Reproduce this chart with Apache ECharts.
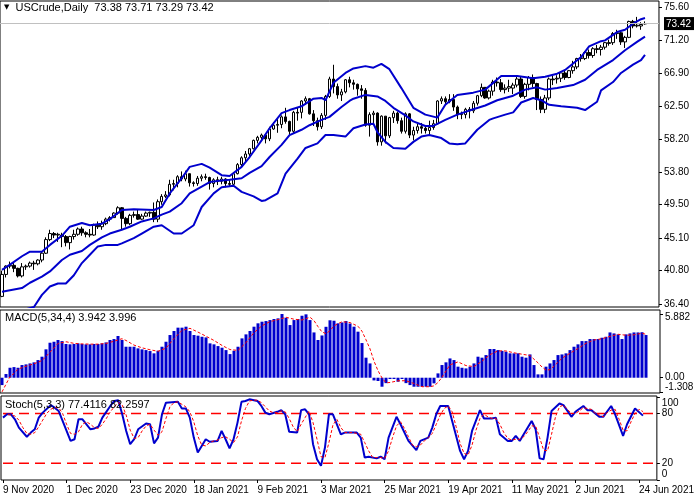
<!DOCTYPE html>
<html>
<head>
<meta charset="utf-8">
<title>USCrude, Daily</title>
<script src="https://cdn.jsdelivr.net/npm/echarts@6/dist/echarts.min.js"></script>
<style>
    html, body { margin: 0; padding: 0; background: #fff; }
    #chart { width: 697px; height: 500px; }
</style>
</head>
<body>
<div id="chart"></div>
<script>
// bar labels along the time axis, one every 16 bars
var timeLabels = ['9 Nov 2020', '1 Dec 2020', '23 Dec 2020', '18 Jan 2021', '9 Feb 2021', '3 Mar 2021',
    '25 Mar 2021', '19 Apr 2021', '11 May 2021', '2 Jun 2021', '24 Jun 2021'];
var barCount = 162;   // 9 Nov 2020 .. 25 Jun 2021
var shiftSlots = 3;   // empty space right of the last bar

var priceTicks = [75.60, 71.20, 66.90, 62.50, 58.20, 53.80, 49.50, 45.10, 40.80, 36.40];
var bidPrice = 73.42;
var macdTicks = [5.882, 0];
var macdMinTick = [-1.308];
var stochTicks = [100, 80, 20, 0];
var stochLevels = [80, 20];

var opens = [37.4,40.3,41.4,41.5,41.1,40.1,41.3,41.4,41.8,41.7,
    42.2,43.1,44.9,45.7,45.5,45.5,45.3,44.5,45.3,45.6,
    46.3,45.8,45.6,45.5,46.8,46.6,47.0,47.6,47.8,48.4,
    49.1,47.7,47.0,48.1,48.2,47.6,48.0,48.4,48.5,47.6,
    49.9,50.6,50.8,52.2,52.3,53.2,52.9,53.6,52.4,52.3,
    53.0,53.2,53.1,52.3,52.8,52.6,52.9,52.3,52.2,53.6,
    54.8,55.7,56.2,56.9,58.0,58.4,58.7,58.2,59.5,60.0,
    60.1,61.1,60.5,59.2,61.7,61.7,63.2,63.5,61.5,60.6,
    59.8,61.3,63.8,66.1,65.1,64.0,64.4,66.0,65.6,65.4,
    64.8,64.6,60.0,61.4,61.6,57.8,61.2,58.6,61.0,61.6,
    60.6,59.2,61.5,58.7,59.3,59.8,59.6,59.3,59.7,60.2,
    63.2,63.5,63.1,63.4,62.4,61.4,61.4,62.1,61.9,62.9,
    63.9,65.0,63.6,64.5,65.7,65.6,64.7,64.9,64.9,65.3,
    66.1,63.8,65.4,66.3,65.5,63.4,62.1,63.6,66.1,66.1,
    66.2,66.9,66.3,67.2,67.7,68.8,68.8,69.6,69.2,70.1,
    70.0,70.3,70.9,70.9,72.1,72.2,71.0,71.6,73.7,73.1,
    73.1,73.38];
var highs = [40.8,41.5,42.0,41.8,41.2,41.8,41.6,42.0,42.1,42.3,
    43.3,45.2,46.2,45.9,45.8,45.8,45.5,45.4,46.2,46.5,
    46.6,46.0,46.3,47.0,47.3,47.4,47.8,48.0,48.5,49.3,
    49.2,47.9,48.3,48.6,48.9,48.3,48.6,48.6,49.8,50.2,
    50.9,51.3,52.8,52.8,53.4,53.9,54.0,53.6,52.6,53.3,
    53.5,53.6,53.2,53.0,53.2,53.2,53.0,52.8,53.8,55.0,
    55.9,56.6,57.0,58.1,58.6,58.9,58.9,59.8,60.4,60.8,
    61.3,62.3,60.6,61.9,62.3,63.3,63.8,63.6,62.0,61.0,
    61.6,64.0,66.4,67.98,65.5,64.8,66.1,66.4,66.0,65.5,
    65.3,64.9,61.7,61.9,61.7,61.3,61.2,61.1,61.9,61.8,
    61.0,61.7,61.6,59.8,60.2,60.3,60.0,60.6,60.7,63.3,
    63.8,63.8,64.1,64.1,62.6,61.8,62.3,62.4,63.2,64.0,
    65.5,65.0,64.7,66.0,66.3,66.1,65.4,66.0,65.6,66.4,
    66.5,65.6,66.5,66.7,65.6,63.8,64.0,66.3,66.5,66.6,
    67.1,67.2,67.3,68.5,68.9,69.4,69.8,70.0,70.3,70.6,
    70.6,71.0,71.3,72.3,72.6,72.3,71.8,73.8,73.9,74.3,
    73.6,73.71];
var lows = [37.3,39.9,41.1,40.6,39.9,39.9,40.9,41.2,40.9,41.5,
    41.9,43.0,44.7,45.1,44.6,43.9,44.0,43.6,44.9,45.4,
    45.4,45.2,45.2,45.4,46.3,46.2,46.8,47.3,47.8,48.2,
    46.2,46.6,46.8,47.8,47.5,47.5,47.9,47.9,47.2,47.2,
    49.5,50.4,50.6,51.4,51.8,52.6,52.6,51.9,51.9,52.0,
    52.6,52.8,51.5,51.8,52.1,52.2,51.8,51.9,51.9,53.5,
    54.5,55.2,55.8,56.8,57.6,58.0,57.6,57.9,59.4,59.0,
    59.6,60.2,58.6,58.9,60.6,60.9,62.7,61.4,59.9,59.3,
    59.5,60.7,63.6,64.2,63.5,63.2,64.2,65.0,64.7,63.9,
    63.5,59.8,58.5,60.3,57.3,57.3,57.6,58.3,60.3,60.2,
    58.9,58.9,58.3,58.0,58.9,58.9,58.9,58.8,59.4,60.1,
    62.8,62.7,62.9,61.9,60.8,60.8,60.9,60.9,61.6,62.6,
    63.7,63.5,63.4,63.9,65.1,64.4,64.2,64.4,64.1,65.0,
    63.6,63.5,64.6,65.0,62.0,61.6,61.6,63.3,65.3,65.5,
    65.7,66.0,66.2,66.8,67.4,68.4,68.6,68.8,68.9,69.5,
    69.2,70.0,70.5,70.6,71.4,70.6,70.2,71.5,72.8,72.9,
    72.6,73.29];
var closes = [40.3,41.4,41.5,41.1,40.1,41.3,41.4,41.8,41.7,42.2,
    43.1,44.9,45.7,45.5,45.6,45.3,44.5,45.3,45.6,46.3,
    45.8,45.6,45.5,46.8,46.6,47.0,47.6,47.8,48.4,49.1,
    47.7,47.0,48.1,48.2,47.6,48.0,48.4,48.5,47.6,49.9,
    50.6,50.8,52.2,52.3,53.2,52.9,53.6,52.4,52.3,53.0,
    53.2,53.1,52.3,52.8,52.6,52.9,52.3,52.2,53.6,54.8,
    55.7,56.2,56.9,58.0,58.4,58.7,58.2,59.5,60.0,60.1,
    61.1,60.5,59.2,61.7,61.6,63.2,63.5,61.5,60.6,59.8,
    61.3,63.8,66.1,65.1,64.0,64.4,66.0,65.6,65.4,64.8,
    64.6,60.0,61.4,61.6,57.8,61.2,58.6,61.0,61.6,60.6,
    59.2,61.5,58.7,59.3,59.8,59.6,59.3,59.7,60.2,63.2,
    63.5,63.1,63.4,62.4,61.4,61.5,62.1,61.9,62.9,63.9,
    65.0,63.6,64.5,65.7,65.6,64.7,64.9,65.1,65.3,66.1,
    63.8,65.4,66.3,65.5,63.4,62.1,63.6,66.1,66.0,66.2,
    66.9,66.3,67.2,67.7,68.8,68.9,69.6,69.2,70.1,70.0,
    70.3,70.9,70.8,72.1,72.2,71.0,71.6,73.7,73.1,73.2,
    73.3,73.42];

// Bollinger bands, read at [bar, price]
var bbUpper = [[0,40.9],[2,41.6],[5,42.7],[7,43.3],[10,43.3],[12,44.2],[15,45.4],[17,46.6],[20,47.1],[22,46.8],
    [25,47.0],[27,47.6],[30,48.8],[33,48.9],[38,48.8],[40,49.2],[42,51.0],[45,53.0],[47,54.5],[50,54.9],
    [52,54.4],[55,53.4],[57,53.3],[60,54.5],[62,55.8],[65,58.0],[67,59.6],[70,61.6],[72,62.0],[75,62.5],
    [78,63.5],[80,63.6],[81,63.3],[83,65.6],[86,66.9],[88,67.5],[91,67.8],[93,67.6],[95,68.1],[97,67.4],
    [100,64.9],[103,62.3],[106,61.4],[109,61.0],[111,62.7],[114,64.0],[118,64.3],[121,64.7],[125,66.5],[129,66.5],
    [133,66.2],[136,66.4],[139,66.8],[141,67.3],[145,69.0],[147,70.4],[150,71.1],[151,71.2],[154,72.3],[156,72.6],
    [158,73.4],[160,74.0],[161,74.15]];
var bbMiddle = [[0,38.0],[5,38.5],[7,39.2],[10,40.0],[12,40.7],[15,42.2],[17,42.9],[20,43.4],[22,44.2],[25,45.2],
    [27,45.7],[30,46.2],[32,46.6],[35,47.3],[38,47.7],[40,48.2],[42,48.6],[45,49.7],[47,51.0],[50,51.9],
    [52,52.5],[55,52.7],[57,52.8],[60,53.0],[62,53.7],[65,54.6],[67,55.8],[70,57.4],[72,58.7],[75,59.4],
    [77,60.0],[80,60.7],[82,61.1],[85,62.4],[87,63.2],[88,63.5],[91,64.0],[94,63.8],[96,63.2],[98,62.3],
    [101,61.3],[103,60.5],[106,59.9],[108,59.9],[111,60.7],[114,61.4],[118,62.1],[121,62.6],[124,63.3],[128,63.9],
    [131,64.7],[134,65.0],[136,64.7],[139,64.9],[143,65.3],[146,66.0],[149,67.3],[153,68.6],[156,69.9],[159,71.0],
    [161,71.7]];
var bbLower = [[0,35.2],[4,35.4],[8,36.0],[10,37.6],[12,38.7],[14,39.1],[16,39.1],[18,40.2],[20,41.8],[22,42.9],
    [24,44.0],[26,44.2],[29,44.2],[30,44.4],[33,45.1],[35,45.7],[38,46.6],[40,46.8],[43,45.7],[45,45.7],
    [48,46.8],[50,49.2],[53,51.0],[55,51.8],[58,52.0],[60,51.2],[63,50.6],[65,50.0],[66,50.1],[69,51.0],
    [71,53.6],[74,55.6],[76,57.0],[79,57.6],[81,58.7],[83,58.7],[86,58.5],[88,59.6],[91,60.1],[93,60.2],
    [94,59.1],[96,57.8],[98,57.0],[101,56.9],[103,57.8],[105,58.5],[107,58.7],[110,58.3],[112,57.6],[114,57.5],
    [116,57.6],[119,59.4],[122,60.7],[123,60.9],[126,61.4],[128,61.7],[130,63.0],[133,63.6],[135,63.3],[137,62.7],
    [140,62.5],[144,62.3],[146,62.0],[149,63.1],[150,64.6],[153,65.7],[155,66.9],[158,68.0],[160,68.6],[161,69.3]];

// MACD(5,34,4) histogram, one value per bar
var macdMain = [-0.68,0.34,0.92,0.98,0.92,1.17,1.23,1.32,1.42,1.63,
    1.94,2.62,3.23,3.32,3.48,3.38,3.11,3.08,3.11,3.17,
    3.11,3.08,3.08,3.11,3.11,3.17,3.26,3.48,3.57,3.85,
    3.48,2.86,2.86,2.86,2.71,2.62,2.55,2.46,2.25,2.49,
    2.86,3.32,3.94,4.31,4.62,4.62,4.71,4.31,3.94,3.88,
    3.78,3.72,3.17,3.08,2.92,2.77,2.55,2.18,2.49,2.86,
    3.63,4.0,4.31,4.71,5.02,5.17,5.23,5.32,5.42,5.48,
    5.88,5.54,4.86,5.32,5.42,5.72,5.85,5.32,4.18,3.48,
    3.9,4.7,5.3,5.26,5.02,5.1,5.23,5.0,4.71,4.25,
    3.2,1.85,1.32,-0.25,-0.3,-0.83,-0.5,-0.12,-0.12,-0.37,
    -0.12,-0.5,-0.68,-0.83,-0.83,-0.83,-0.83,-0.83,-0.52,0.4,
    1.17,1.42,1.78,1.63,1.02,0.92,0.86,1.02,1.32,1.94,
    1.85,2.09,2.65,2.65,2.55,2.48,2.4,2.25,2.25,2.25,
    1.94,1.85,2.15,1.17,0.31,0.31,1.02,1.32,1.63,2.09,
    2.15,2.25,2.55,2.86,3.08,3.38,3.38,3.57,3.57,3.57,
    3.69,3.78,4.18,4.09,4.0,3.57,4.0,4.09,4.18,4.18,
    4.2,3.94];
var macdSignal = [[0,-1.308],[1,-0.6],[2,0.1],[3,0.4],[4,0.79],[6,1.06],[8,1.29],[10,1.58],[12,2.35],[14,3.16],
    [16,3.32],[18,3.17],[20,3.12],[22,3.10],[24,3.1],[26,3.16],[28,3.37],[30,3.6],[31,3.44],[33,3.01],
    [35,2.76],[37,2.58],[39,2.44],[41,2.73],[43,3.61],[45,4.37],[47,4.56],[49,4.21],[51,3.83],[53,3.44],
    [55,2.98],[57,2.60],[59,2.52],[61,3.24],[63,4.16],[65,4.80],[67,5.18],[69,5.36],[71,5.58],[73,5.40],
    [75,5.33],[77,5.58],[78,5.27],[79,4.71],[80,4.22],[81,4.07],[82,4.34],[83,4.79],[85,5.17],[87,5.09],
    [89,4.75],[90,4.29],[91,3.50],[92,2.66],[93,1.53],[94,0.65],[95,-0.02],[96,-0.47],[97,-0.44],[99,-0.28],
    [101,-0.28],[103,-0.53],[105,-0.83],[107,-0.83],[108,-0.75],[109,-0.44],[110,0.05],[111,0.62],[112,1.19],[114,1.46],
    [116,1.12],[118,1.03],[120,1.53],[122,2.13],[124,2.48],[126,2.47],[128,2.30],[130,2.17],[132,2.05],[134,1.37],
    [135,0.99],[136,0.70],[137,0.74],[138,1.07],[140,1.80],[142,2.26],[144,2.69],[146,3.18],[148,3.48],[150,3.60],
    [152,3.81],[154,4.01],[156,3.92],[158,3.96],[160,4.11],[161,3.996]];

// Stoch(5,3,3), read at [bar, value]
var stochMain = [[0,75],[1,79],[2,79],[3,73],[4,63],[6,52],[7,57],[8,61],[9,75],[10,81],
    [12,90],[13,87],[14,83],[15,71],[17,47],[18,49],[19,73],[20,73],[22,61],[23,62],
    [24,64],[25,75],[27,89],[28,95],[29,96],[30,79],[31,59],[32,43],[33,49],[34,61],
    [36,68],[37,67],[38,44],[39,51],[40,79],[41,93],[44,94],[45,86],[46,86],[47,75],
    [48,51],[49,33],[50,41],[51,49],[52,46],[54,47],[55,59],[56,49],[57,38],[58,49],
    [59,69],[60,94],[61,95],[62,97],[64,95],[65,89],[66,81],[67,79],[69,82],[70,84],
    [71,79],[72,58],[74,57],[75,84],[76,85],[77,79],[78,43],[79,25],[80,17],[81,39],
    [82,79],[83,79],[85,55],[86,57],[89,57],[90,51],[91,27],[92,28],[94,26],[95,28],
    [96,25],[97,51],[99,76],[100,67],[102,47],[104,36],[105,47],[107,51],[108,63],[109,79],
    [110,89],[112,89],[113,71],[115,35],[116,25],[117,35],[118,59],[120,84],[121,74],[123,74],
    [124,75],[125,55],[127,47],[128,47],[129,53],[130,47],[131,55],[133,71],[134,61],[135,26],
    [136,25],[137,51],[138,83],[140,92],[141,90],[143,76],[144,82],[146,89],[147,84],[148,84],
    [150,76],[151,76],[153,89],[154,79],[156,53],[157,67],[159,86],[161,77.41]];
var stochSignal = [[0,80],[2,78],[3,77],[4,72],[5,63],[6,56],[7,55],[8,57],[9,64],[10,72],
    [11,80],[12,85],[13,87],[14,87],[15,80],[16,67],[17,56],[18,55],[19,58],[20,67],
    [21,70],[22,67],[23,63],[24,62],[25,67],[26,74],[27,82],[28,88],[29,93],[30,90],
    [31,78],[32,60],[33,50],[34,51],[35,59],[36,65],[37,67],[38,60],[39,54],[40,58],
    [41,74],[42,88],[43,93],[44,94],[45,91],[46,88],[47,82],[48,70],[49,53],[50,42],
    [51,41],[52,45],[53,47],[54,48],[55,51],[56,52],[57,49],[58,45],[59,52],[60,71],
    [61,86],[62,95],[63,96],[64,96],[65,93],[66,88],[67,83],[68,81],[69,81],[70,83],
    [71,82],[72,74],[73,64],[74,58],[75,67],[76,75],[77,83],[78,69],[79,49],[80,28],
    [81,27],[82,45],[83,66],[84,73],[85,63],[86,57],[88,57],[89,56],[90,55],[91,45],
    [92,35],[93,27],[94,27],[95,27],[96,26],[97,35],[98,51],[99,65],[100,70],[101,62],
    [102,52],[103,42],[104,40],[105,42],[106,47],[107,51],[108,56],[109,67],[110,78],[111,86],
    [112,89],[113,82],[114,64],[115,44],[116,32],[117,30],[118,42],[119,60],[120,74],[121,79],
    [122,76],[123,74],[124,74],[125,67],[126,57],[127,50],[128,48],[129,49],[130,49],[131,52],
    [132,58],[133,65],[134,65],[135,51],[136,36],[137,35],[138,55],[139,76],[140,88],[141,90],
    [142,85],[143,80],[144,80],[145,83],[146,87],[147,86],[148,85],[149,80],[150,78],[151,76],
    [152,81],[153,84],[154,85],[155,73],[156,60],[157,59],[158,70],[159,80],[160,85],[161,82.26]];

var FONT = 'Liberation Sans';
var BLUE = '#0000CD';
var RED = '#FF0000';

var cats = [];
for (var i = 0; i < barCount + shiftSlots; i++) {
    cats.push(String(i));
}
var candles = [];
for (var j = 0; j < barCount; j++) {
    candles.push([opens[j], closes[j], lows[j], highs[j]]);
}

function isTimeTick(index) {
    return index % 16 === 0 && index / 16 < timeLabels.length;
}

function makeX(gridIndex, withLabels) {
    return {
        gridIndex: gridIndex,
        type: 'category',
        data: cats,
        boundaryGap: true,
        show: withLabels,
        axisLine: {show: false},
        splitLine: {show: false},
        axisTick: {
            show: withLabels,
            alignWithLabel: true,
            interval: function (index) { return isTimeTick(index); },
            length: 3,
            lineStyle: {color: '#000'}
        },
        axisLabel: {
            show: withLabels,
            interval: function (index) { return isTimeTick(index); },
            formatter: function (value, index) { return timeLabels[index / 16]; },
            align: 'left',
            margin: 5,
            color: '#000',
            fontFamily: FONT,
            fontSize: 10
        }
    };
}

function makeY(gridIndex, min, max, ticks, labels, formatter, rich) {
    return {
        gridIndex: gridIndex,
        type: 'value',
        position: 'right',
        min: min,
        max: max,
        axisLine: {show: false},
        splitLine: {show: false},
        axisTick: {show: true, length: 3, customValues: ticks, lineStyle: {color: '#000'}},
        axisLabel: {
            customValues: labels,
            showMinLabel: true,
            showMaxLabel: true,
            hideOverlap: false,
            margin: 5,
            color: '#000',
            fontFamily: FONT,
            fontSize: 10,
            formatter: formatter,
            rich: rich
        }
    };
}

// level line across the whole stoch pane
function levelSeries(level) {
    return {
        name: 'Level ' + level,
        type: 'line',
        xAxisIndex: 2,
        yAxisIndex: 2,
        symbol: 'none',
        silent: true,
        z: 1,
        data: [[0, level], [barCount + shiftSlots - 1, level]],
        itemStyle: {color: RED},
        lineStyle: {color: RED, width: 1.5, type: [10, 6]}
    };
}

var myChart = echarts.init(document.getElementById('chart'));

var titleStyle = {fontSize: 11, fontWeight: 'normal', color: '#000', fontFamily: FONT};

var series = [
    {
        name: 'USCrude',
        type: 'candlestick',
        xAxisIndex: 0,
        yAxisIndex: 0,
        barWidth: 3,
        data: candles,
        itemStyle: {
            color: '#fff',
            color0: '#000',
            borderColor: '#000',
            borderColor0: '#000',
            borderWidth: 1
        },
        markLine: {
            silent: true,
            symbol: 'none',
            label: {show: false},
            lineStyle: {color: '#C0C0C0', width: 1, type: 'solid'},
            data: [{yAxis: bidPrice}]
        }
    },
    {name: 'BB upper', type: 'line', xAxisIndex: 0, yAxisIndex: 0, symbol: 'none', data: bbUpper,
        lineStyle: {color: BLUE, width: 2}},
    {name: 'BB middle', type: 'line', xAxisIndex: 0, yAxisIndex: 0, symbol: 'none', data: bbMiddle,
        lineStyle: {color: BLUE, width: 2}},
    {name: 'BB lower', type: 'line', xAxisIndex: 0, yAxisIndex: 0, symbol: 'none', data: bbLower,
        lineStyle: {color: BLUE, width: 2}},
    {
        name: 'MACD',
        type: 'bar',
        xAxisIndex: 1,
        yAxisIndex: 1,
        barWidth: 3,
        data: macdMain,
        itemStyle: {color: BLUE}
    },
    {name: 'MACD signal', type: 'line', xAxisIndex: 1, yAxisIndex: 1, symbol: 'none', data: macdSignal,
        itemStyle: {color: RED},
        lineStyle: {color: RED, width: 1, type: [3, 2]}}
];
stochLevels.forEach(function (lv) {
    series.push(levelSeries(lv));
});
series.push(
    {name: 'Stoch', type: 'line', xAxisIndex: 2, yAxisIndex: 2, symbol: 'none', data: stochMain,
        itemStyle: {color: BLUE},
        lineStyle: {color: BLUE, width: 2}},
    {name: 'Stoch signal', type: 'line', xAxisIndex: 2, yAxisIndex: 2, symbol: 'none', data: stochSignal,
        itemStyle: {color: RED},
        lineStyle: {color: RED, width: 1, type: [3, 2]}}
);

option = {
    animation: false,
    backgroundColor: '#fff',
    textStyle: {fontFamily: FONT},
    title: [
        {
            text: '{tri|▼}  USCrude,Daily  73.38 73.71 73.29 73.42',
            left: 4, top: 2, padding: 0,
            textStyle: {
                fontSize: 11, fontWeight: 'normal', color: '#000', fontFamily: FONT,
                rich: {tri: {fontSize: 7, color: '#000', fontFamily: 'DejaVu Sans'}}
            }
        },
        {text: 'MACD(5,34,4) 3.942 3.996', left: 5, top: 312, padding: 0, textStyle: titleStyle},
        {text: 'Stoch(5,3,3) 77.4116 82.2597', left: 5, top: 399, padding: 0, textStyle: titleStyle}
    ],
    grid: [
        {left: 0, width: 660, top: 1, height: 306, show: true, borderColor: '#000', borderWidth: 1, backgroundColor: '#fff'},
        {left: 0, width: 660, top: 310, height: 83, show: true, borderColor: '#000', borderWidth: 1, backgroundColor: '#fff'},
        {left: 0, width: 660, top: 396, height: 84, show: true, borderColor: '#000', borderWidth: 1, backgroundColor: '#fff'}
    ],
    xAxis: [makeX(0, false), makeX(1, false), makeX(2, true)],
    yAxis: [
        makeY(0, 36.0, 76.4, priceTicks, priceTicks.concat([bidPrice]),
            function (v) {
                if (v === bidPrice) {
                    return '{cur|' + v.toFixed(2) + '}';
                }
                return v.toFixed(2);
            },
            {cur: {backgroundColor: '#000', color: '#fff', padding: [2, 3, 1, 2], fontFamily: FONT, fontSize: 10}}),
        makeY(1, -1.41, 6.25, macdTicks, macdTicks,
            function (v) {
                if (v === 0) {
                    return '0.00';
                }
                return '{hi|' + v.toFixed(3) + '}';
            },
            {hi: {padding: [6, 0, 0, 0], fontFamily: FONT, fontSize: 10, color: '#000'}}),
        makeY(2, 0, 101, stochTicks, stochTicks,
            function (v) {
                if (v === 100) {
                    return '{hi|100}';
                }
                if (v === 0) {
                    return '{lo|0}';
                }
                return String(v);
            },
            {hi: {padding: [12, 0, 0, 0], fontFamily: FONT, fontSize: 10, color: '#000'},
             lo: {padding: [0, 0, 12, 0], fontFamily: FONT, fontSize: 10, color: '#000'}}),
        // second axis in the MACD pane, only for the pane minimum
        makeY(1, -1.41, 6.25, macdMinTick, macdMinTick,
            function (v) { return '{lo|' + v.toFixed(3) + '}'; },
            {lo: {padding: [0, 0, 10, 0], fontFamily: FONT, fontSize: 10, color: '#000'}})
    ],
    series: series
};
myChart.setOption(option);
</script>
</body>
</html>
